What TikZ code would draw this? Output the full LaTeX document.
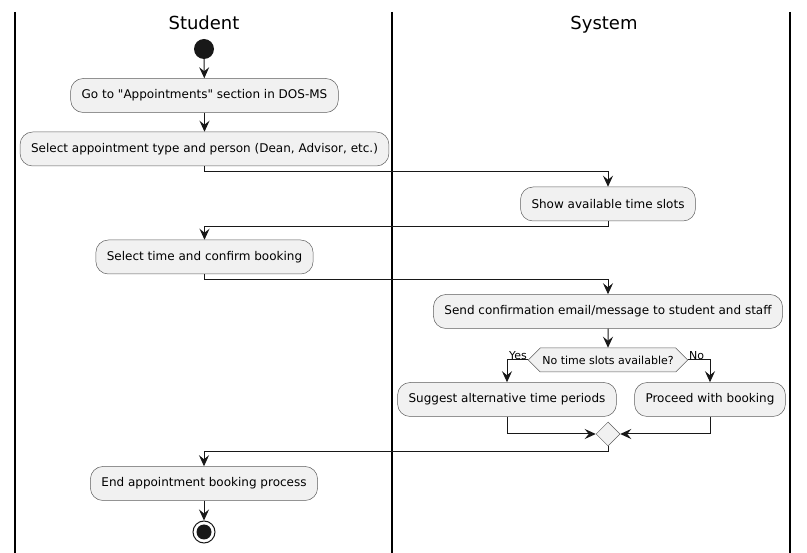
\documentclass[tikz,border=0pt]{standalone}
\usepackage{fontspec}
\setmainfont{DejaVu Sans}[Ligatures=TeXOff]
\usetikzlibrary{arrows.meta,shapes.geometric,shapes.symbols}
\definecolor{boxfill}{HTML}{F1F1F1}
\definecolor{ink}{HTML}{181818}
\begin{document}
\begin{tikzpicture}[x=1pt,y=-1pt,
  act/.style={draw=ink!70,line width=0.5pt,fill=boxfill,rounded corners=12.5pt,
    minimum height=34pt,inner xsep=11pt,font=\fontsize{12}{14}\selectfont,text=black},
  flow/.style={draw=ink,line width=1pt,-{Stealth[length=11pt,width=10pt,inset=4pt]}},
  lane/.style={draw=black,line width=1.4pt},
  title/.style={font=\fontsize{18}{21}\selectfont,anchor=base},
  lbl/.style={font=\fontsize{11}{13}\selectfont,inner sep=1pt}]
\useasboundingbox (0,0) rectangle (807,553);
% lanes
\draw[lane] (15,12) -- (15,553);
\draw[lane] (392,12) -- (392,553);
\draw[lane] (790,12) -- (790,553);
\node[title] (tStudent) at (204,29.5) {Student};
\node[title] (tSystem) at (604,29.5) {System};
% start
\node[circle,fill=ink,minimum size=20pt,inner sep=0pt] (start) at (204,49) {};
\node[act] (b1) at (204.5,95.5) {Go to "Appointments" section in DOS-MS};
\node[act] (b2) at (204.5,149) {Select appointment type and person (Dean, Advisor, etc.)};
\node[act] (b3) at (608,204) {Show available time slots};
\node[act] (b4) at (204.5,257) {Select time and confirm booking};
\node[act] (b5) at (608,311.5) {Send confirmation email/message to student and staff};
\node[signal,signal to=west and east,draw=ink!70,line width=0.5pt,fill=boxfill,
  minimum height=24pt,minimum width=156pt,inner xsep=2pt,inner ysep=0pt,
  font=\fontsize{11}{13}\selectfont] (dec) at (608,360) {No time slots available?};
\node[act] (b6) at (507,399.5) {Suggest alternative time periods};
\node[act] (b7) at (710,399.5) {Proceed with booking};
\node[diamond,draw=ink!70,line width=0.5pt,fill=boxfill,minimum width=24pt,minimum height=24pt,inner sep=0pt] (merge) at (608,434) {};
\node[act] (b8) at (204,483.5) {End appointment booking process};
\node[circle,draw=ink,line width=1pt,fill=white,minimum size=22pt,inner sep=0pt] (endo) at (204,532) {};
\node[circle,fill=ink,minimum size=15pt,inner sep=0pt] (endi) at (204,532) {};
% connectors
\draw[flow] (start) -- (b1);
\draw[flow] (b1) -- (b2);
\draw[flow] (b2.south) -- ++(0,5) -| (b3.north);
\draw[flow] (b3.south) -- ++(0,5) -| (b4.north);
\draw[flow] (b4.south) -- ++(0,5) -| (b5.north);
\draw[flow] (b5) -- (dec);
\draw[flow] (dec.west) -| (b6.north);
\draw[flow] (dec.east) -| (b7.north);
\draw[flow] (b6.south) |- (merge.west);
\draw[flow] (b7.south) |- (merge.east);
\draw[flow] (merge.south) -- ++(0,5) -| (b8.north);
\draw[flow] (b8) -- (endo);
\node[lbl,anchor=south east] (yes) at ([yshift=-1pt]dec.west) {Yes};
\node[lbl,anchor=south west] (no) at ([yshift=-1pt]dec.east) {No};
\end{tikzpicture}
\end{document}
